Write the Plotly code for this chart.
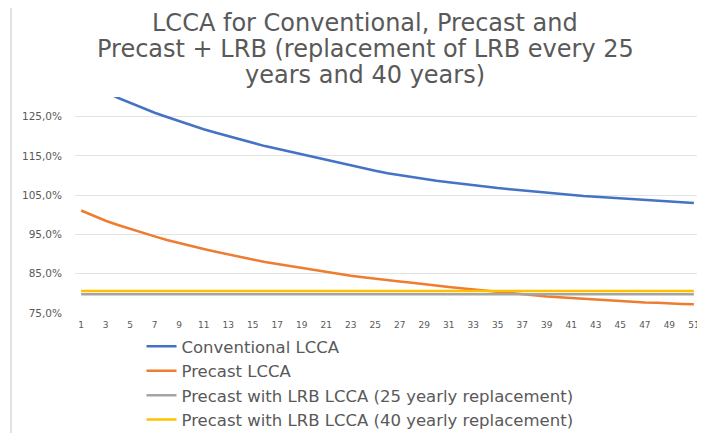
import plotly.graph_objects as go

years = list(range(1, 52))

conventional = [134.5, 132.8, 131.3, 129.8, 128.5, 127.2, 126.0, 124.9, 123.8, 122.8,
                121.8, 120.9, 120.0, 119.1, 118.3, 117.5, 116.8, 116.1, 115.4, 114.7,
                114.0, 113.3, 112.5, 111.8, 111.2, 110.6, 110.1, 109.6, 109.1, 108.7,
                108.3, 107.9, 107.5, 107.1, 106.8, 106.5, 106.2, 105.9, 105.6, 105.3,
                105.0, 104.8, 104.6, 104.4, 104.2, 104.0, 103.8, 103.6, 103.4, 103.2,
                103.0]

precast = [101.1, 99.7, 98.5, 97.4, 96.4, 95.4, 94.5, 93.6, 92.8, 92.0,
           91.3, 90.6, 89.9, 89.2, 88.6, 88.0, 87.5, 86.9, 86.4, 85.9,
           85.4, 84.9, 84.5, 84.1, 83.7, 83.3, 83.0, 82.7, 82.3, 82.0,
           81.6, 81.3, 81.0, 80.6, 80.3, 80.0, 79.7, 79.5, 79.2, 79.0,
           78.8, 78.6, 78.4, 78.2, 78.0, 77.9, 77.7, 77.6, 77.4, 77.3,
           77.2]

lrb_25 = [79.8] * 51
lrb_40 = [80.6] * 51

series_names = ["Conventional LCCA", "Precast LCCA",
                "Precast with LRB LCCA (25 yearly replacement)",
                "Precast with LRB LCCA (40 yearly replacement)"]
series_colors = ["#4472C4", "#ED7D31", "#A5A5A5", "#FFC000"]
series_values = [conventional, precast, lrb_25, lrb_40]

x_tickvals = list(range(1, 52, 2))
y_tickvals = [75, 85, 95, 105, 115, 125]
y_ticktext = ["75,0%", "85,0%", "95,0%", "105,0%", "115,0%", "125,0%"]

title_lines = ["LCCA for Conventional, Precast and",
               "Precast + LRB (replacement of LRB every 25",
               "years and 40 years)"]

FONT = "DejaVu Sans"
GREY_TXT = "#595959"

# page body has an 8px margin: figure pixel = screen pixel - 8
OFF = 8
# plot area in screen pixels: left 75, right 700, top 97, bottom 313
PL, PR, PT, PB = 75 - OFF, 700 - OFF, 97 - OFF, 313 - OFF
PW, PH = PR - PL, PB - PT


def px_x(x):
    return (x - OFF - PL) / PW


def px_y(y):
    return (PB - (y - OFF)) / PH


fig = go.Figure()
for name, color, vals in zip(series_names, series_colors, series_values):
    fig.add_trace(go.Scatter(x=years, y=vals, mode="lines", name=name,
                             line=dict(color=color, width=2.5)))

title_y = [22.5, 48.5, 75]
annotations = []
for line, ty in zip(title_lines, title_y):
    annotations.append(dict(text=line, xref="paper", yref="paper",
                            x=px_x(365), y=px_y(ty),
                            xanchor="center", yanchor="middle", showarrow=False,
                            font=dict(family=FONT, size=24, color=GREY_TXT)))

fig.update_layout(
    width=705, height=433,
    margin=dict(l=PL, r=705 - PR, t=PT, b=433 - PB, autoexpand=False),
    paper_bgcolor="white", plot_bgcolor="white",
    font=dict(family=FONT, color=GREY_TXT),
    showlegend=True,
    legend=dict(orientation="v", x=px_x(141.5), xanchor="left",
                y=px_y(329), yanchor="top",
                font=dict(family=FONT, size=16.5, color=GREY_TXT),
                bgcolor="rgba(0,0,0,0)", tracegroupgap=0),
    xaxis=dict(range=[0.5, 51.5], tickvals=x_tickvals, showgrid=False,
               zeroline=False, showline=False, ticks="",
               tickfont=dict(family=FONT, size=9, color=GREY_TXT),
               ticklabelstandoff=5, fixedrange=True),
    yaxis=dict(range=[75, 130], tickvals=y_tickvals, ticktext=y_ticktext,
               showgrid=True, gridcolor="#E3E3E3", gridwidth=1,
               zeroline=False, showline=False, ticks="",
               tickfont=dict(family=FONT, size=10.5, color=GREY_TXT),
               ticklabelstandoff=12, fixedrange=True),
    annotations=annotations,
    shapes=[
        dict(type="line", xref="paper", yref="paper",
             x0=px_x(11), x1=px_x(11), y0=px_y(0), y1=px_y(445),
             line=dict(color="#D9D9D9", width=1.5)),
    ],
)

fig.write_html("out.html")
